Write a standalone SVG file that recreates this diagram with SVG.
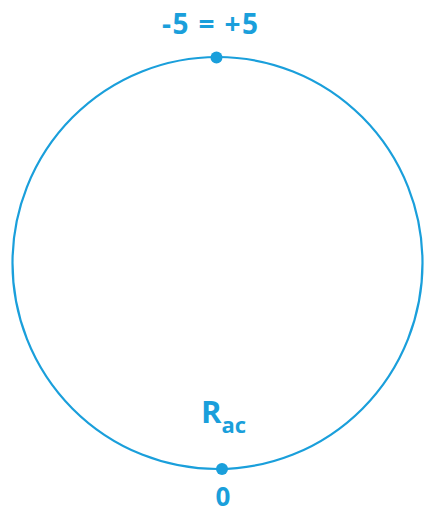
<svg xmlns="http://www.w3.org/2000/svg" width="424" height="514" viewBox="0 0 424 514">
<style>
.c{fill:none;stroke:#1a9fdb;stroke-width:2.2}
.d{fill:#1a9fdb}
.t{fill:#1a9fdb;font-family:"Open Sans","Liberation Sans",sans-serif;font-weight:bold}
</style>
<rect width="424" height="514" fill="#fff"/>
<g id="ring"><ellipse class="c" cx="217.5" cy="263" rx="205" ry="206"/></g>
<g id="top">
<circle class="d" cx="216.5" cy="57.5" r="6"/>
<text class="t" x="210" y="34" font-size="28" text-anchor="middle" textLength="96" lengthAdjust="spacing">-5 = +5</text>
</g>
<g id="bottom">
<circle class="d" cx="222" cy="469" r="6"/>
<text class="t" x="223" y="506" font-size="26" text-anchor="middle">0</text>
</g>
<g id="rac">
<text class="t" x="201" y="423" font-size="31">R<tspan font-size="22" dy="10">ac</tspan></text>
</g>
</svg>
